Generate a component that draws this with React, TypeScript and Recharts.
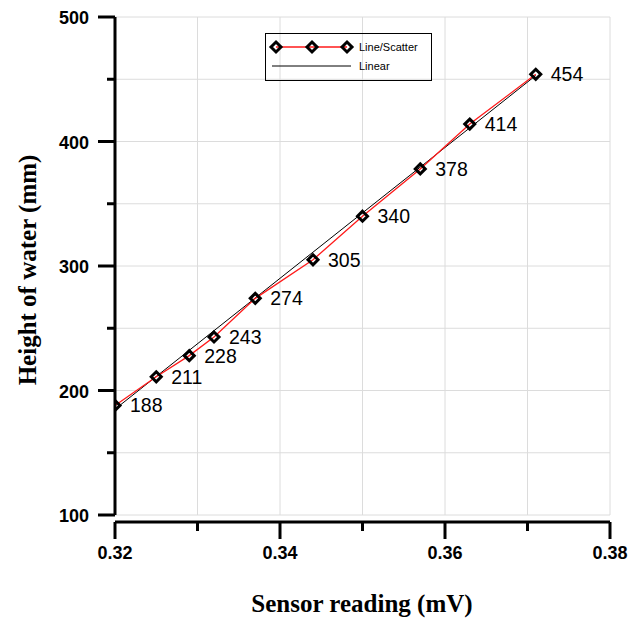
import React from 'react';
import {LineChart, Line, XAxis, YAxis, CartesianGrid, LabelList} from 'recharts';

// measured points (sensor reading in mV, water height in mm)
const sensorReading = [0.32, 0.325, 0.329, 0.332, 0.337, 0.344, 0.35, 0.357, 0.363, 0.371];
const waterHeight = [188, 211, 228, 243, 274, 305, 340, 378, 414, 454];

// linear fit, read at both ends of the data range
const fitReading = [0.32, 0.371];
const fitHeight = [185, 453];

const xTicks = [0.32, 0.33, 0.34, 0.35, 0.36, 0.37, 0.38];
const yTicks = [100, 150, 200, 250, 300, 350, 400, 450, 500];

const data = sensorReading.map((x, i) => ({x, height: waterHeight[i]}));
const fitData = fitReading.map((x, i) => ({x, fit: fitHeight[i]}));

const sans = "'Liberation Sans', Arial, sans-serif";
const serif = "'Liberation Serif', 'Times New Roman', serif";

function diamondPath(cx: number, cy: number, r: number) {
    return `M${cx},${cy - r} L${cx + r},${cy} L${cx},${cy + r} L${cx - r},${cy} Z`;
}

function XTick({x, y, payload}: any) {
    const v = payload.value as number;
    const major = Math.round(v * 100) % 2 === 0;
    return (
        <g>
            <line x1={x} x2={x} y1={y + 7} y2={y + 7 + (major ? 17 : 9)} stroke="#000" strokeWidth={3}/>
            {major && (
                <text x={x} y={y + 44} textAnchor="middle" fontFamily={sans} fontWeight="bold" fontSize={18} fill="#000">
                    {v.toFixed(2)}
                </text>
            )}
        </g>
    );
}

function YTick({x, y, payload}: any) {
    const v = payload.value as number;
    const major = v % 100 === 0;
    return (
        <g>
            <line x1={x - (major ? 17 : 8)} x2={x} y1={y} y2={y} stroke="#000" strokeWidth={3}/>
            {major && (
                <text x={x - 26} y={y + 7} textAnchor="end" fontFamily={sans} fontWeight="bold" fontSize={18} fill="#000">
                    {v}
                </text>
            )}
        </g>
    );
}

function DiamondDot({cx, cy, index}: any) {
    return <path key={index} d={diamondPath(cx, cy, 5)} fill="none" stroke="#000" strokeWidth={3}/>;
}

function App(): React.ReactElement {
    return (
        <div style={{position: 'absolute', left: 0, top: 0, background: '#fff'}}>
            <LineChart width={632} height={618} margin={{top: 17, right: 22, bottom: 0, left: 0}}>
                <CartesianGrid stroke="#dcdcdc" strokeWidth={1}/>
                <XAxis
                    dataKey="x"
                    type="number"
                    domain={[0.32, 0.38]}
                    ticks={xTicks}
                    height={103}
                    tickSize={0}
                    tickMargin={0}
                    tickLine={false}
                    tick={<XTick/>}
                    axisLine={{stroke: '#000', strokeWidth: 3, transform: 'translate(0,7)'}}
                    allowDataOverflow
                />
                <YAxis
                    type="number"
                    domain={[100, 500]}
                    ticks={yTicks}
                    width={115}
                    tickSize={0}
                    tickMargin={0}
                    tickLine={false}
                    tick={<YTick/>}
                    axisLine={{stroke: '#000', strokeWidth: 3}}
                    allowDataOverflow
                />
                <Line
                    data={fitData}
                    dataKey="fit"
                    type="linear"
                    stroke="#000"
                    strokeWidth={1}
                    dot={false}
                    activeDot={false}
                    isAnimationActive={false}
                />
                <Line
                    data={data}
                    dataKey="height"
                    type="linear"
                    stroke="#ff1a1a"
                    strokeWidth={1.3}
                    dot={<DiamondDot/>}
                    activeDot={false}
                    isAnimationActive={false}
                >
                    <LabelList dataKey="height" position="right" offset={15} fill="#000" fontSize={19.5} fontFamily={sans}/>
                </Line>

                <text x={362} y={612} textAnchor="middle" fontFamily={serif} fontWeight="bold" fontSize={25} fill="#000">
                    Sensor reading (mV)
                </text>
                <text transform="translate(36,270) rotate(-90)" textAnchor="middle" fontFamily={serif} fontWeight="bold" fontSize={25} fill="#000">
                    Height of water (mm)
                </text>

                {/* legend */}
                <g>
                    <rect x={265.5} y={33.5} width={166} height={47} fill="none" stroke="#000" strokeWidth={1}/>
                    <line x1={276} x2={347} y1={47} y2={47} stroke="#ff1a1a" strokeWidth={1.3}/>
                    {[276, 312, 347].map((cx) => (
                        <path key={cx} d={diamondPath(cx, 47, 5)} fill="none" stroke="#000" strokeWidth={3}/>
                    ))}
                    <text x={359} y={51} fontFamily={sans} fontSize={11} fill="#000">Line/Scatter</text>
                    <line x1={272} x2={351} y1={66} y2={66} stroke="#000" strokeWidth={1}/>
                    <text x={359} y={70} fontFamily={sans} fontSize={11} fill="#000">Linear</text>
                </g>
            </LineChart>
        </div>
    );
}

export default App;
